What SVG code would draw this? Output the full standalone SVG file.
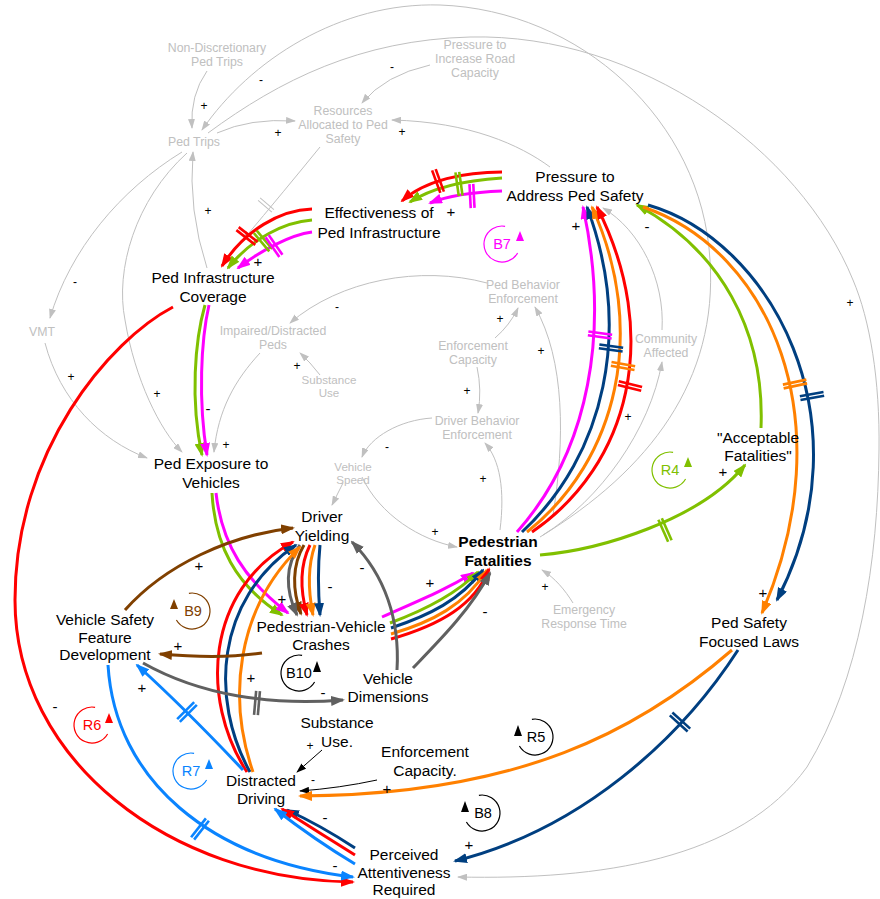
<svg xmlns="http://www.w3.org/2000/svg" width="880" height="899" viewBox="0 0 880 899">
<style>
text{font-family:"Liberation Sans",Arial,sans-serif}
.n{font-size:15.5px;fill:#000;text-anchor:middle}
.b{font-weight:bold}
.g{font-size:12.3px;fill:#c0c0c0;text-anchor:middle}
.gs{font-size:11.6px}
.p{font-size:12px;fill:#000;text-anchor:middle}
.pc{font-size:15px;fill:#000;text-anchor:middle}
.lt{font-size:14.5px;text-anchor:middle}
.lk{fill:none;stroke:#c0c0c0;stroke-width:1}
.bk{fill:none;stroke:#000;stroke-width:1}
.c{fill:none;stroke-width:3}
.red{stroke:#ff0000}.grn{stroke:#80c000}.mag{stroke:#ff00ff}.nav{stroke:#003f80}.org{stroke:#ff8000}.brn{stroke:#804000}.dg{stroke:#606060}.lb{stroke:#0a84ff}
.lc{fill:none;stroke-width:1.2}
</style>
<defs>
<marker id="mG" markerWidth="10" markerHeight="7" refX="9" refY="3.5" orient="auto" markerUnits="userSpaceOnUse"><path d="M0,0 L10,3.5 L0,7 z" fill="#c0c0c0"/></marker>
<marker id="mK" markerWidth="10" markerHeight="7" refX="9" refY="3.5" orient="auto" markerUnits="userSpaceOnUse"><path d="M0,0 L10,3.5 L0,7 z" fill="#000"/></marker>
<marker id="mR" markerWidth="14" markerHeight="10" refX="12" refY="5" orient="auto" markerUnits="userSpaceOnUse"><path d="M0,0 L14,5 L0,10 z" fill="#ff0000"/></marker>
<marker id="mGr" markerWidth="14" markerHeight="10" refX="12" refY="5" orient="auto" markerUnits="userSpaceOnUse"><path d="M0,0 L14,5 L0,10 z" fill="#80c000"/></marker>
<marker id="mM" markerWidth="14" markerHeight="10" refX="12" refY="5" orient="auto" markerUnits="userSpaceOnUse"><path d="M0,0 L14,5 L0,10 z" fill="#ff00ff"/></marker>
<marker id="mN" markerWidth="14" markerHeight="10" refX="12" refY="5" orient="auto" markerUnits="userSpaceOnUse"><path d="M0,0 L14,5 L0,10 z" fill="#003f80"/></marker>
<marker id="mO" markerWidth="14" markerHeight="10" refX="12" refY="5" orient="auto" markerUnits="userSpaceOnUse"><path d="M0,0 L14,5 L0,10 z" fill="#ff8000"/></marker>
<marker id="mB" markerWidth="14" markerHeight="10" refX="12" refY="5" orient="auto" markerUnits="userSpaceOnUse"><path d="M0,0 L14,5 L0,10 z" fill="#804000"/></marker>
<marker id="mD" markerWidth="14" markerHeight="10" refX="12" refY="5" orient="auto" markerUnits="userSpaceOnUse"><path d="M0,0 L14,5 L0,10 z" fill="#606060"/></marker>
<marker id="mL" markerWidth="14" markerHeight="10" refX="12" refY="5" orient="auto" markerUnits="userSpaceOnUse"><path d="M0,0 L14,5 L0,10 z" fill="#0a84ff"/></marker>
<g id="h2" stroke-width="2.6"><line x1="-1.9" y1="-12" x2="-1.9" y2="12"/><line x1="1.9" y1="-12" x2="1.9" y2="12"/></g>
<g id="h1" stroke-width="1"><line x1="-1.6" y1="-9" x2="-1.6" y2="9"/><line x1="1.6" y1="-9" x2="1.6" y2="9"/></g>
</defs>

<g id="connectors">
<!-- gray links -->
<path class="lk" d="M207,71 Q190,95 192,128" marker-end="url(#mG)"/>
<path class="lk" d="M540,537 C650,470 718,380 710,260 C702,120 580,10 440,5 C340,2 250,60 202,130" marker-end="url(#mG)"/>
<path class="lk" d="M208,133 C280,80 360,40 470,37 C640,33 800,150 853,280 C870,320 880,380 879,450 C878,560 860,680 807,767 C740,860 600,880 458,877" marker-end="url(#mG)"/>
<path class="lk" d="M217,133 Q250,118 295,121" marker-end="url(#mG)"/>
<path class="lk" d="M430,65 Q385,75 362,103" marker-end="url(#mG)"/>
<path class="lk" d="M550,167 C520,145 470,122 392,120" marker-end="url(#mG)"/>
<path class="lk" d="M320,147 Q285,190 243,240" marker-end="url(#mG)"/>
<use href="#h1" stroke="#c0c0c0" transform="translate(266,205) rotate(130)"/>
<path class="lk" d="M207,268 Q188,210 193,152" marker-end="url(#mG)"/>
<path class="lk" d="M182,152 C120,190 70,250 50,318" marker-end="url(#mG)"/>
<path class="lk" d="M187,153 C135,200 115,270 125,320 C135,380 160,430 182,452" marker-end="url(#mG)"/>
<path class="lk" d="M45,343 C60,400 100,440 147,458" marker-end="url(#mG)"/>
<path class="lk" d="M260,353 C235,380 218,410 214,452" marker-end="url(#mG)"/>
<path class="lk" d="M320,375 Q310,362 300,353" marker-end="url(#mG)"/>
<path class="lk" d="M487,283 C420,265 340,280 290,323" marker-end="url(#mG)"/>
<path class="lk" d="M495,338 Q510,325 518,308" marker-end="url(#mG)"/>
<path class="lk" d="M477,367 Q482,390 478,413" marker-end="url(#mG)"/>
<path class="lk" d="M432,418 C400,420 370,437 362,457" marker-end="url(#mG)"/>
<path class="lk" d="M343,483 L332,505" marker-end="url(#mG)"/>
<path class="lk" d="M362,477 C380,515 420,540 457,547" marker-end="url(#mG)"/>
<path class="lk" d="M500,530 C505,490 500,460 485,443" marker-end="url(#mG)"/>
<path class="lk" d="M553,515 C565,440 565,360 535,307" marker-end="url(#mG)"/>
<path class="lk" d="M543,535 C600,500 650,430 662,362" marker-end="url(#mG)"/>
<path class="lk" d="M662,330 C665,280 640,230 603,208" marker-end="url(#mG)"/>
<path class="lk" d="M573,603 C565,590 555,578 542,570" marker-end="url(#mG)"/>

<!-- black thin links -->
<path class="bk" d="M322,750 L297,772" marker-end="url(#mK)"/>
<path class="bk" d="M377,780 Q340,788 300,791" marker-end="url(#mK)"/>

<!-- Pressure -> Effectiveness -->
<path class="c red" d="M502,172 C465,172 425,180 402,201" marker-end="url(#mR)"/>
<path class="c grn" d="M502,178 C470,180 435,186 410,202" marker-end="url(#mGr)"/>
<path class="c mag" d="M502,191 C475,192 450,195 430,203" marker-end="url(#mM)"/>
<use href="#h2" stroke="#ff0000" transform="translate(438,181) rotate(160)"/>
<use href="#h2" stroke="#80c000" transform="translate(459,184) rotate(172)"/>
<use href="#h2" stroke="#ff00ff" transform="translate(472,196) rotate(177)"/>

<!-- Effectiveness -> Ped Infra Coverage -->
<path class="c red" d="M312,209 C280,210 245,230 222,266" marker-end="url(#mR)"/>
<path class="c grn" d="M312,220 C285,222 252,238 228,268" marker-end="url(#mGr)"/>
<path class="c mag" d="M312,232 C290,235 262,250 238,268" marker-end="url(#mM)"/>
<use href="#h2" stroke="#ff0000" transform="translate(247,236) rotate(128)"/>
<use href="#h2" stroke="#80c000" transform="translate(263,241) rotate(140)"/>
<use href="#h2" stroke="#ff00ff" transform="translate(274,246) rotate(145)"/>

<!-- Ped Infra -> Ped Exposure -->
<path class="c grn" d="M205,305 C195,340 190,400 202,455" marker-end="url(#mGr)"/>
<path class="c mag" d="M209,305 C201,340 198,400 207,455" marker-end="url(#mM)"/>

<!-- Ped Infra -> Perceived Attentiveness -->
<path class="c red" d="M173,307 C110,340 15,450 15,600 C15,760 170,880 353,882" marker-end="url(#mR)"/>

<!-- Ped Exposure -> Crashes -->
<path class="c grn" d="M212,493 C215,545 235,585 282,615" marker-end="url(#mGr)"/>
<path class="c mag" d="M216,493 C222,545 245,580 288,613" marker-end="url(#mM)"/>

<!-- Driver Yielding -> Crashes -->
<path class="c brn" d="M304,545 C292,565 292,590 301,614" marker-end="url(#mB)"/>
<path class="c dg" d="M300,545 C285,565 285,590 297,615" marker-end="url(#mD)"/>
<path class="c red" d="M310,545 C300,565 300,590 307,615" marker-end="url(#mR)"/>
<path class="c org" d="M315,545 C308,565 308,590 313,615" marker-end="url(#mO)"/>
<path class="c nav" d="M320,545 C318,565 318,590 320,615" marker-end="url(#mN)"/>

<!-- Distracted Driving -> Driver Yielding -->
<path class="c red" d="M247,772 C200,700 205,590 293,542" marker-end="url(#mR)"/>
<path class="c nav" d="M250,772 C210,700 215,600 296,545" marker-end="url(#mN)"/>
<path class="c org" d="M253,772 C228,700 235,610 300,547" marker-end="url(#mO)"/>

<!-- Crashes -> Fatalities -->
<path class="c mag" d="M382,617 C420,600 445,590 473,573" marker-end="url(#mM)"/>
<path class="c grn" d="M390,623 C425,610 455,595 478,572" marker-end="url(#mGr)"/>
<path class="c nav" d="M391,628 C430,615 460,600 483,570" marker-end="url(#mN)"/>
<path class="c org" d="M391,634 C432,622 465,605 487,570" marker-end="url(#mO)"/>
<path class="c red" d="M391,639 C440,625 475,605 489,569" marker-end="url(#mR)"/>

<!-- Vehicle Dimensions links -->
<path class="c dg" d="M413,668 C440,640 470,610 490,573" marker-end="url(#mD)"/>
<path class="c dg" d="M397,670 C400,620 385,575 352,542" marker-end="url(#mD)"/>

<!-- Vehicle Safety links -->
<path class="c brn" d="M125,610 C165,565 230,535 293,528" marker-end="url(#mB)"/>
<path class="c brn" d="M262,653 C230,658 195,657 160,654" marker-end="url(#mB)"/>
<path class="c dg" d="M143,663 C200,695 270,706 343,700" marker-end="url(#mD)"/>
<use href="#h2" stroke="#606060" transform="translate(257,703) rotate(5)"/>

<!-- light blue -->
<path class="c lb" d="M243,770 C210,735 170,695 137,665" marker-end="url(#mL)"/>
<use href="#h2" stroke="#0a84ff" transform="translate(187,712) rotate(-135)"/>
<path class="c lb" d="M108,665 C115,780 210,860 353,877" marker-end="url(#mL)"/>
<use href="#h2" stroke="#0a84ff" transform="translate(200,829) rotate(38)"/>

<!-- Perceived -> Distracted -->
<path class="c nav" d="M355,848 Q320,825 287,810" marker-end="url(#mN)"/>
<path class="c red" d="M355,855 Q318,832 282,809" marker-end="url(#mR)"/>
<path class="c lb" d="M355,864 Q315,840 275,809" marker-end="url(#mL)"/>

<!-- Laws links -->
<path class="c org" d="M732,650 C640,730 520,795 300,796" marker-end="url(#mO)"/>
<path class="c nav" d="M738,650 C680,740 580,830 455,861" marker-end="url(#mN)"/>
<use href="#h2" stroke="#003f80" transform="translate(680,722) rotate(132)"/>

<!-- Fatalities -> Acceptable -->
<path class="c grn" d="M540,555 C600,550 700,520 745,465" marker-end="url(#mGr)"/>
<use href="#h2" stroke="#80c000" transform="translate(665,530) rotate(-24)"/>
<!-- Acceptable -> Pressure -->
<path class="c grn" d="M761,428 C765,330 720,250 637,205" marker-end="url(#mGr)"/>

<!-- Pressure -> Laws -->
<path class="c org" d="M643,207 C770,250 845,420 762,613" marker-end="url(#mO)"/>
<path class="c nav" d="M648,205 C770,240 870,420 777,600" marker-end="url(#mN)"/>
<use href="#h2" stroke="#ff8000" transform="translate(795,384) rotate(78)"/>
<use href="#h2" stroke="#003f80" transform="translate(812,396) rotate(80)"/>

<!-- Fatalities -> Pressure -->
<path class="c mag" d="M517,532 C590,450 610,330 583,207" marker-end="url(#mM)"/>
<path class="c nav" d="M522,532 C605,455 633,330 587,207" marker-end="url(#mN)"/>
<path class="c org" d="M527,532 C618,460 648,330 592,207" marker-end="url(#mO)"/>
<path class="c red" d="M532,532 C630,465 662,335 597,207" marker-end="url(#mR)"/>
<use href="#h2" stroke="#ff00ff" transform="translate(600,335) rotate(-82)"/>
<use href="#h2" stroke="#003f80" transform="translate(611,348) rotate(-82)"/>
<use href="#h2" stroke="#ff8000" transform="translate(623,366) rotate(-80)"/>
<use href="#h2" stroke="#ff0000" transform="translate(630,386) rotate(-76)"/>

<!-- polarity labels -->
<g class="p">
<text x="204" y="110">+</text><text x="261" y="84">-</text><text x="278" y="137">+</text>
<text x="392" y="71">-</text><text x="402" y="136">+</text><text x="208" y="215">+</text>
<text x="75" y="286">-</text><text x="157" y="398">+</text><text x="71" y="381">+</text>
<text x="226" y="449">+</text><text x="297" y="370">+</text><text x="337" y="311">-</text>
<text x="500" y="323">+</text><text x="467" y="395">+</text><text x="387" y="451">-</text>
<text x="435" y="536">+</text><text x="483" y="483">+</text><text x="541" y="355">+</text>
<text x="628" y="421">+</text><text x="545" y="591">+</text><text x="850" y="307">+</text>
<text x="310" y="750">+</text><text x="313" y="784">-</text>
</g>
<g class="pc">
<text x="451" y="217">+</text><text x="258" y="267">+</text><text x="208" y="414">-</text>
<text x="55" y="712">-</text><text x="282" y="604">+</text><text x="330" y="592">-</text>
<text x="251" y="683">+</text><text x="430" y="588">+</text><text x="485" y="617">-</text>
<text x="362" y="573">-</text><text x="199" y="571">+</text><text x="178" y="651">+</text>
<text x="323" y="698">-</text><text x="142" y="693">+</text><text x="335" y="871">-</text>
<text x="325" y="823">-</text><text x="387" y="794">+</text><text x="469" y="850">+</text>
<text x="723" y="477">+</text><text x="647" y="232">-</text><text x="763" y="598">+</text>
<text x="576" y="231">+</text>
</g>
</g>

<!-- loop markers -->
<g id="loop-B7">
<path class="lc" stroke="#ff00ff" d="M505.1,226.3 A18,18 0 1 0 517.6,253"/>
<path d="M516,241 L524,241 L520,231 z" fill="#ff00ff"/>
<text class="lt" x="502" y="249" fill="#ff00ff">B7</text>
</g>
<g id="loop-R4">
<path class="lc" stroke="#80c000" d="M673.1,452.3 A18,18 0 1 0 685.6,479"/>
<path d="M684,467 L692,467 L688,457 z" fill="#80c000"/>
<text class="lt" x="670" y="475" fill="#80c000">R4</text>
</g>
<g id="loop-B9">
<path class="lc" stroke="#804000" d="M188.9,593.3 A18,18 0 1 1 176.4,620"/>
<path d="M170,609 L178,609 L174,599 z" fill="#804000"/>
<text class="lt" x="193" y="616" fill="#804000">B9</text>
</g>
<g id="loop-B10">
<path class="lc" stroke="#000" d="M302.1,655.3 A18,18 0 1 0 314.6,682"/>
<path d="M313,672 L321,672 L317,661 z" fill="#000"/>
<text class="lt" x="299" y="678" fill="#000">B10</text>
</g>
<g id="loop-R6">
<path class="lc" stroke="#ff0000" d="M95.1,707.3 A18,18 0 1 0 107.6,734"/>
<path d="M105,723 L113,723 L109,713 z" fill="#ff0000"/>
<text class="lt" x="92" y="730" fill="#ff0000">R6</text>
</g>
<g id="loop-R7">
<path class="lc" stroke="#0a84ff" d="M194.1,753.3 A18,18 0 1 0 206.6,780"/>
<path d="M205,769 L213,769 L209,759 z" fill="#0a84ff"/>
<text class="lt" x="191" y="776" fill="#0a84ff">R7</text>
</g>
<g id="loop-R5">
<path class="lc" stroke="#000" d="M531.9,719.3 A18,18 0 1 1 519.4,746"/>
<path d="M514,736 L522,736 L518,725 z" fill="#000"/>
<text class="lt" x="536" y="742" fill="#000">R5</text>
</g>
<g id="loop-B8">
<path class="lc" stroke="#000" d="M478.9,795.3 A18,18 0 1 1 466.4,822"/>
<path d="M461,812 L469,812 L465,801 z" fill="#000"/>
<text class="lt" x="483" y="818" fill="#000">B8</text>
</g>

<!-- gray nodes -->
<g id="n-nondisc" class="g"><text x="217" y="52">Non-Discretionary</text><text x="217" y="66">Ped Trips</text></g>
<g id="n-pedtrips" class="g"><text x="194" y="146">Ped Trips</text></g>
<g id="n-resources" class="g"><text x="343" y="115">Resources</text><text x="343" y="129">Allocated to Ped</text><text x="343" y="143">Safety</text></g>
<g id="n-roadcap" class="g"><text x="475" y="49">Pressure to</text><text x="475" y="63">Increase Road</text><text x="475" y="77">Capacity</text></g>
<g id="n-vmt" class="g"><text x="42" y="336">VMT</text></g>
<g id="n-impaired" class="g"><text x="273" y="335">Impaired/Distracted</text><text x="273" y="349">Peds</text></g>
<g id="n-substance" class="g gs"><text x="329" y="384">Substance</text><text x="329" y="397">Use</text></g>
<g id="n-pedbeh" class="g"><text x="523" y="289">Ped Behavior</text><text x="523" y="303">Enforcement</text></g>
<g id="n-enfcap" class="g"><text x="473" y="350">Enforcement</text><text x="473" y="364">Capacity</text></g>
<g id="n-drvbeh" class="g"><text x="477" y="425">Driver Behavior</text><text x="477" y="439">Enforcement</text></g>
<g id="n-speed" class="g gs"><text x="353" y="471">Vehicle</text><text x="353" y="484">Speed</text></g>
<g id="n-community" class="g"><text x="666" y="343">Community</text><text x="666" y="357">Affected</text></g>
<g id="n-emergency" class="g"><text x="584" y="614">Emergency</text><text x="584" y="628">Response Time</text></g>

<!-- main nodes -->
<g id="n-pressure" class="n"><text x="575" y="182">Pressure to</text><text x="575" y="201">Address Ped Safety</text></g>
<g id="n-effect" class="n"><text x="379" y="218">Effectiveness of</text><text x="379" y="238">Ped Infrastructure</text></g>
<g id="n-coverage" class="n"><text x="213" y="283">Ped Infrastructure</text><text x="213" y="302">Coverage</text></g>
<g id="n-exposure" class="n"><text x="211" y="469">Ped Exposure to</text><text x="211" y="488">Vehicles</text></g>
<g id="n-yielding" class="n"><text x="322" y="522">Driver</text><text x="322" y="541">Yielding</text></g>
<g id="n-crashes" class="n"><text x="321" y="632">Pedestrian-Vehicle</text><text x="321" y="650">Crashes</text></g>
<g id="n-fatalities" class="n b"><text x="498" y="547">Pedestrian</text><text x="498" y="566">Fatalities</text></g>
<g id="n-acceptable" class="n"><text x="758" y="443">"Acceptable</text><text x="758" y="461">Fatalities"</text></g>
<g id="n-laws" class="n"><text x="749" y="628">Ped Safety</text><text x="749" y="647">Focused Laws</text></g>
<g id="n-vsfd" class="n"><text x="105" y="625">Vehicle Safety</text><text x="105" y="643">Feature</text><text x="105" y="660">Development</text></g>
<g id="n-dimensions" class="n"><text x="388" y="684">Vehicle</text><text x="388" y="702">Dimensions</text></g>
<g id="n-substance2" class="n"><text x="337" y="728">Substance</text><text x="337" y="747">Use.</text></g>
<g id="n-enfcap2" class="n"><text x="425" y="757">Enforcement</text><text x="425" y="776">Capacity.</text></g>
<g id="n-distracted" class="n"><text x="261" y="786">Distracted</text><text x="261" y="804">Driving</text></g>
<g id="n-attentive" class="n"><text x="404" y="860">Perceived</text><text x="404" y="878">Attentiveness</text><text x="404" y="895">Required</text></g>
</svg>
